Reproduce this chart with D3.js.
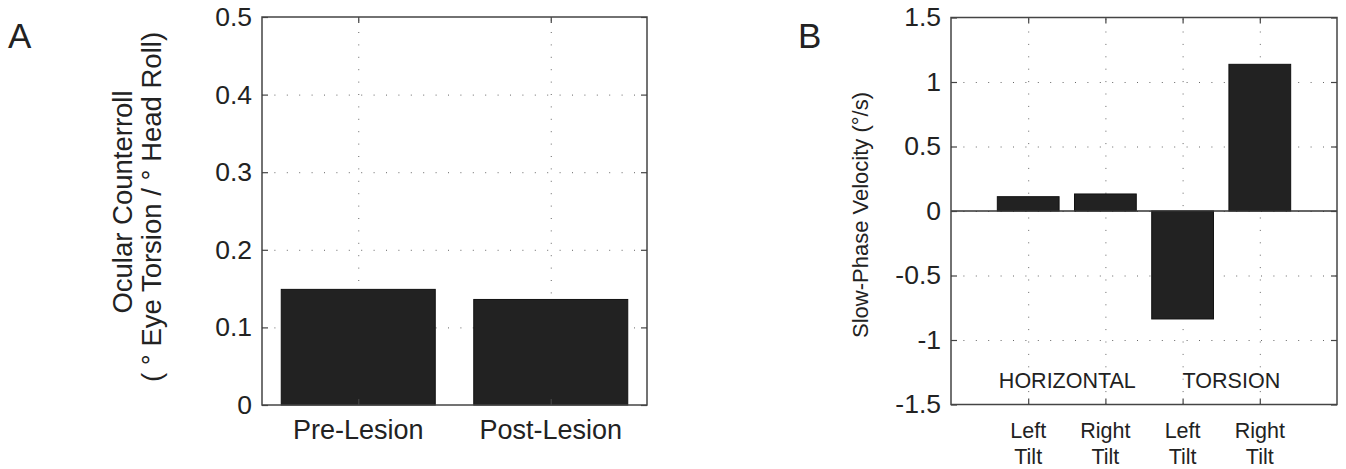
<!DOCTYPE html>
<html>
<head>
<meta charset="utf-8">
<script src="https://cdn.jsdelivr.net/npm/d3@7"></script>
<style>
  body { margin: 0; background: #fff; }
  svg text { font-family: "Liberation Sans", Arial, Helvetica, sans-serif; fill: #222; }
  .grid line { stroke: #666; stroke-width: 1; stroke-dasharray: 1,11.4; }
  .grid path { display: none; }
  .ticks path { display: none; }
  .ticks line { stroke: #444; stroke-width: 1.2; }
</style>
</head>
<body>
<div id="chart"></div>
<script>
// Data
//=================================
// panel A: ocular counterroll gain
var groupsA = ["Pre-Lesion", "Post-Lesion"];
var valuesA = [0.149, 0.136];
var yTicksA = [0, 0.1, 0.2, 0.3, 0.4, 0.5];

// panel B: slow-phase velocity
var groupsB = [["Left", "Tilt"], ["Right", "Tilt"], ["Left", "Tilt"], ["Right", "Tilt"]];
var valuesB = [0.111, 0.132, -0.837, 1.137];
var yTicksB = [-1.5, -1, -0.5, 0, 0.5, 1, 1.5];
var componentsB = ["HORIZONTAL", "TORSION"];

var svgWidth = 1346;
var svgHeight = 469;

var svg = d3.select("#chart")
  .append("svg")
  .attr("width", svgWidth)
  .attr("height", svgHeight);

// plain hyphen for negative numbers, like the original figure
var tickFmt = d => String(d);

// dotted grid of one panel (drawn before the bars)
function drawGrid(x, y, xTicks, yTicks) {
  var x0 = x.range()[0], x1 = x.range()[1];
  var y0 = y.range()[0], y1 = y.range()[1];
  var g = svg.append("g");

  g.append("g").classed("grid", true)
    .attr("transform", `translate(${x0},0)`)
    .call(d3.axisLeft(y).tickValues(yTicks.filter(d => d != y.domain()[0] && d != y.domain()[1]))
      .tickSize(-(x1 - x0)).tickFormat(""));
  g.append("g").classed("grid", true)
    .attr("transform", `translate(0,${y0})`)
    .call(d3.axisBottom(x).tickValues(xTicks).tickSize(-(y0 - y1)).tickFormat(""));
  return g;
}

// box, inward ticks on all four sides and left tick labels
function drawTicks(g, x, y, xTicks, yTicks) {
  var x0 = x.range()[0], x1 = x.range()[1];
  var y0 = y.range()[0], y1 = y.range()[1];

  var left = g.append("g").classed("ticks", true)
    .attr("transform", `translate(${x0},0)`)
    .call(d3.axisLeft(y).tickValues(yTicks).tickSize(-6).tickPadding(10).tickFormat(tickFmt));
  left.selectAll("text").attr("font-size", "26.5px").attr("fill", "#222");

  g.append("g").classed("ticks", true)
    .attr("transform", `translate(${x1},0)`)
    .call(d3.axisRight(y).tickValues(yTicks).tickSize(-6).tickFormat(""));
  g.append("g").classed("ticks", true)
    .attr("transform", `translate(0,${y0})`)
    .call(d3.axisBottom(x).tickValues(xTicks).tickSize(-6).tickFormat(""));
  g.append("g").classed("ticks", true)
    .attr("transform", `translate(0,${y1})`)
    .call(d3.axisTop(x).tickValues(xTicks).tickSize(-6).tickFormat(""));

  g.append("rect")
    .attr("x", x0).attr("y", y1)
    .attr("width", x1 - x0).attr("height", y0 - y1)
    .attr("fill", "none")
    .attr("stroke", "#444")
    .attr("stroke-width", 1.5);
}

// Panel A
//=================================
var xA = d3.scaleLinear().domain([0.5, 2.5]).range([262, 647]);
var yA = d3.scaleLinear().domain([0, 0.5]).range([405, 17]);
var ticksXA = groupsA.map((d, i) => i + 1);

var gA = drawGrid(xA, yA, ticksXA, yTicksA);

gA.selectAll(".barA")
  .data(valuesA)
  .enter()
  .append("rect")
  .attr("x", (d, i) => xA(i + 1 - 0.4))
  .attr("width", (d, i) => xA(i + 1 + 0.4) - xA(i + 1 - 0.4))
  .attr("y", d => yA(d))
  .attr("height", d => yA(0) - yA(d))
  .attr("fill", "#222")
  .attr("stroke", "#111")
  .attr("stroke-width", 1);

drawTicks(gA, xA, yA, ticksXA, yTicksA);

gA.selectAll(".labelA")
  .data(groupsA)
  .enter()
  .append("text")
  .attr("x", (d, i) => xA(i + 1))
  .attr("y", 439)
  .attr("text-anchor", "middle")
  .attr("font-size", "27px")
  .text(d => d);

var yLabelA = gA.append("text")
  .attr("transform", "rotate(-90)")
  .attr("text-anchor", "middle")
  .attr("font-size", "27.5px");
yLabelA.append("tspan").attr("x", -202).attr("y", 132).text("Ocular Counterroll");
yLabelA.append("tspan").attr("x", -207).attr("y", 161).text("( ° Eye Torsion / ° Head Roll)");

svg.append("text").attr("x", 8).attr("y", 48).attr("font-size", "35px").text("A");

// Panel B
//=================================
var xB = d3.scaleLinear().domain([0, 5]).range([951, 1337]);
var yB = d3.scaleLinear().domain([-1.5, 1.5]).range([404.5, 17.5]);
var ticksXB = groupsB.map((d, i) => i + 1);

var gB = drawGrid(xB, yB, ticksXB, yTicksB);

gB.selectAll(".barB")
  .data(valuesB)
  .enter()
  .append("rect")
  .attr("x", (d, i) => xB(i + 1 - 0.4))
  .attr("width", (d, i) => xB(i + 1 + 0.4) - xB(i + 1 - 0.4))
  .attr("y", d => yB(Math.max(0, d)))
  .attr("height", d => Math.abs(yB(0) - yB(d)))
  .attr("fill", "#222")
  .attr("stroke", "#111")
  .attr("stroke-width", 1);

// zero baseline
gB.append("line")
  .attr("x1", xB(0)).attr("x2", xB(5))
  .attr("y1", yB(0)).attr("y2", yB(0))
  .attr("stroke", "#333")
  .attr("stroke-width", 1.5);

drawTicks(gB, xB, yB, ticksXB, yTicksB);

var labelsB = gB.selectAll(".labelB")
  .data(groupsB)
  .enter()
  .append("text")
  .attr("text-anchor", "middle")
  .attr("font-size", "21.5px");
labelsB.append("tspan").attr("x", (d, i) => xB(i + 1)).attr("y", 438).text(d => d[0]);
labelsB.append("tspan").attr("x", (d, i) => xB(i + 1)).attr("y", 464).text(d => d[1]);

gB.selectAll(".compB")
  .data(componentsB)
  .enter()
  .append("text")
  .attr("x", (d, i) => xB(i == 0 ? 0.62 : 3.0))
  .attr("y", yB(-1.372))
  .attr("font-size", "21.5px")
  .text(d => d);

gB.append("text")
  .attr("transform", `translate(868,215) rotate(-90)`)
  .attr("text-anchor", "middle")
  .attr("font-size", "22px")
  .text("Slow-Phase Velocity (°/s)");

svg.append("text").attr("x", 798).attr("y", 48).attr("font-size", "35px").text("B");
</script>
</body>
</html>
